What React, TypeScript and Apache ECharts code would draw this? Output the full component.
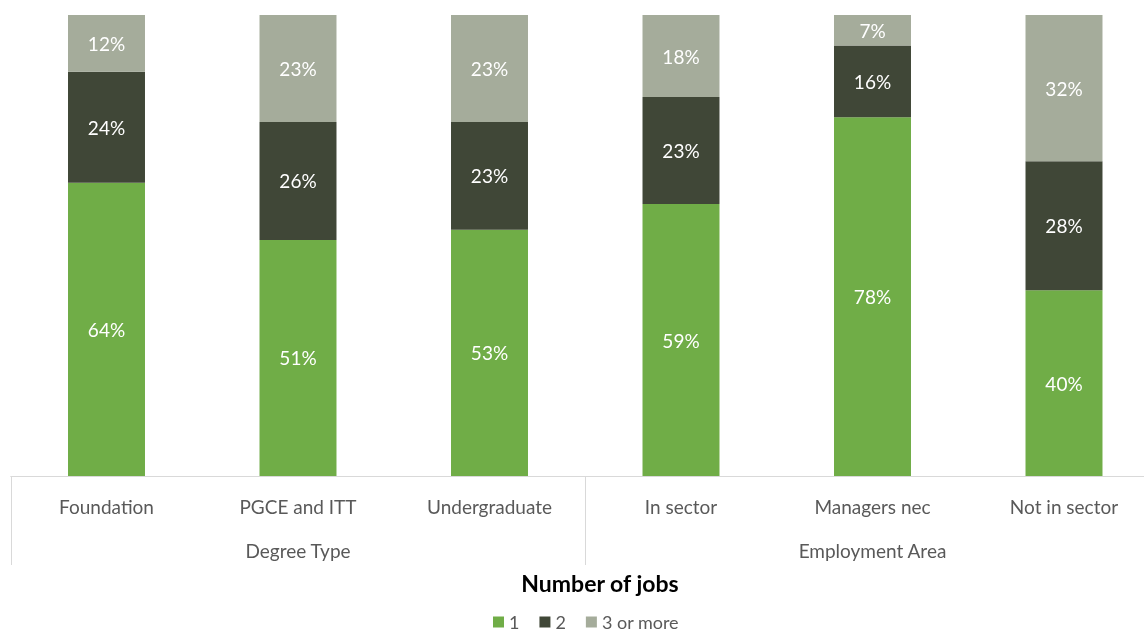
import React, { useEffect, useRef } from "react";
import * as echarts from "echarts";

const categories = ["Foundation", "PGCE and ITT", "Undergraduate", "In sector", "Managers nec", "Not in sector"];
const groups = ["Degree Type", "Employment Area"];
const seriesNames = ["1", "2", "3 or more"];
const oneJob = [63.6, 51.2, 53.4, 59.0, 77.8, 40.3];
const twoJobs = [24.1, 25.6, 23.4, 23.2, 15.6, 28.0];
const threePlus = [12.3, 23.2, 23.2, 17.8, 6.6, 31.7];
const colors = ["#70AD47", "#404737", "#A5AC9B"];

const FONT = "Lato";

export default function App() {
  const ref = useRef<HTMLDivElement>(null);
  useEffect(() => {
    if (!ref.current) return;
    const chart = echarts.init(ref.current, null, { renderer: "svg" });
    const values = [oneJob, twoJobs, threePlus];
    chart.setOption({
      animation: false,
      textStyle: { fontFamily: FONT },
      title: {
        text: "Number of jobs",
        left: 595,
        top: 566,
        textAlign: "center",
        textStyle: { fontFamily: FONT, fontSize: 23, fontWeight: "bold", color: "#000000" },
      },
      legend: {
        data: seriesNames,
        left: 493,
        top: 613,
        padding: 0,
        icon: "rect",
        itemWidth: 11,
        itemHeight: 11,
        itemGap: 20,
        textStyle: { fontFamily: FONT, fontSize: 18, color: "#595959" },
      },
      grid: { left: 10.75, top: 15, width: 1149, height: 461, containLabel: false },
      xAxis: [
        {
          type: "category",
          data: categories,
          axisTick: { show: false },
          axisLine: { show: true, lineStyle: { color: "#D9D9D9", width: 1 } },
          axisLabel: { margin: 21, fontFamily: FONT, fontSize: 19, color: "#595959", interval: 0 },
        },
        {
          type: "category",
          data: groups,
          position: "bottom",
          axisLine: { show: false },
          axisTick: { show: true, length: 89, lineStyle: { color: "#D9D9D9", width: 1 } },
          axisLabel: { margin: 65, fontFamily: FONT, fontSize: 19, color: "#595959", interval: 0 },
        },
      ],
      yAxis: { type: "value", min: 0, max: 100, show: false, splitLine: { show: false } },
      series: seriesNames.map((name, i) => ({
        name,
        type: "bar",
        stack: "total",
        xAxisIndex: 0,
        barWidth: "40.2%",
        data: values[i],
        itemStyle: { color: colors[i] },
        label: {
          show: true,
          position: "inside",
          color: "#FFFFFF",
          fontFamily: FONT,
          fontSize: 19,
          formatter: (p: any) => Math.round(p.value) + "%",
        },
      })),
    });
    return () => chart.dispose();
  }, []);
  return (
    <div style={{ position: "fixed", left: 0, top: 0, width: 1144, height: 633, overflow: "hidden" }}>
      <div ref={ref} style={{ position: "absolute", left: 0, top: 0, width: 1170, height: 633 }} />
    </div>
  );
}
